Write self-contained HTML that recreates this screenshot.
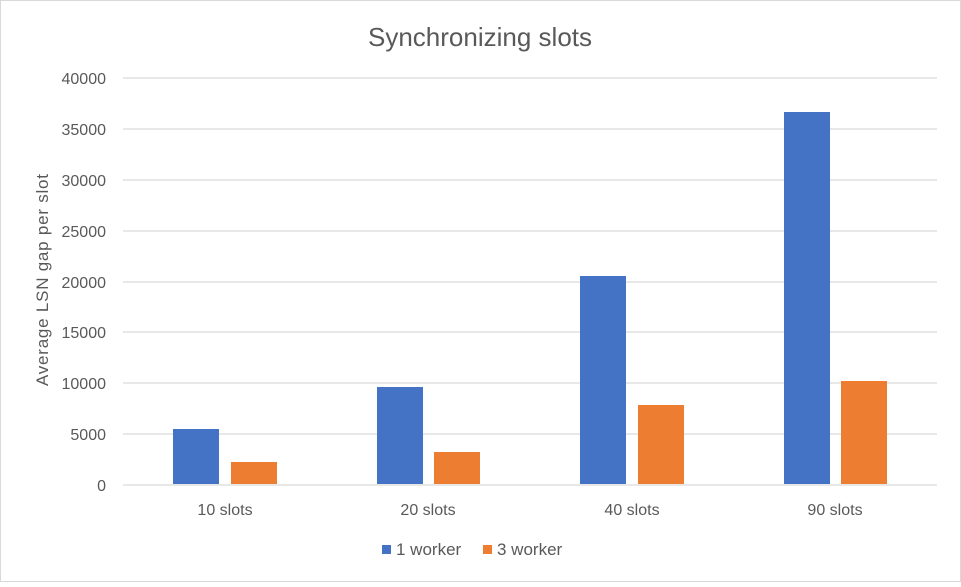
<!DOCTYPE html>
<html><head><style>
body{margin:0;background:#fff;}
svg text{font-family:"Liberation Sans",sans-serif;fill:#595959;}
</style></head><body>
<svg width="961" height="582" xmlns="http://www.w3.org/2000/svg">
<rect x="0.5" y="0.5" width="960" height="581" fill="#fff" stroke="#d9d9d9"/>
<text x="480" y="46" font-size="26" text-anchor="middle">Synchronizing slots</text>
<g stroke="#d9d9d9" stroke-width="1.3">
<line x1="123" x2="937" y1="78" y2="78"/>
<line x1="123" x2="937" y1="129" y2="129"/>
<line x1="123" x2="937" y1="180" y2="180"/>
<line x1="123" x2="937" y1="231" y2="231"/>
<line x1="123" x2="937" y1="282" y2="282"/>
<line x1="123" x2="937" y1="332" y2="332"/>
<line x1="123" x2="937" y1="383" y2="383"/>
<line x1="123" x2="937" y1="434" y2="434"/>
<line x1="123" x2="937" y1="485" y2="485"/>
</g>
<g font-size="16" text-anchor="end">
<text x="106" y="84">40000</text>
<text x="106" y="135">35000</text>
<text x="106" y="186">30000</text>
<text x="106" y="237">25000</text>
<text x="106" y="288">20000</text>
<text x="106" y="338">15000</text>
<text x="106" y="389">10000</text>
<text x="106" y="440">5000</text>
<text x="106" y="491">0</text>
</g>
<text transform="translate(48,280) rotate(-90)" font-size="17" text-anchor="middle" textLength="212">Average LSN gap per slot</text>
<g fill="#4472c4">
<rect x="173" y="429" width="46" height="55"/>
<rect x="377" y="387" width="46" height="97"/>
<rect x="580" y="276" width="46" height="208"/>
<rect x="784" y="112" width="46" height="372"/>
</g>
<g fill="#ed7d31">
<rect x="231" y="462" width="46" height="22"/>
<rect x="434" y="452" width="46" height="32"/>
<rect x="638" y="405" width="46" height="79"/>
<rect x="841" y="381" width="46" height="103"/>
</g>
<g font-size="16" text-anchor="middle">
<text x="225" y="515">10 slots</text>
<text x="428" y="515">20 slots</text>
<text x="632" y="515">40 slots</text>
<text x="835" y="515">90 slots</text>
</g>
<rect x="382" y="545" width="9" height="9" fill="#4472c4"/>
<text x="396" y="555" font-size="17">1 worker</text>
<rect x="483" y="545" width="9" height="9" fill="#ed7d31"/>
<text x="497" y="555" font-size="17">3 worker</text>
</svg>
</body></html>
